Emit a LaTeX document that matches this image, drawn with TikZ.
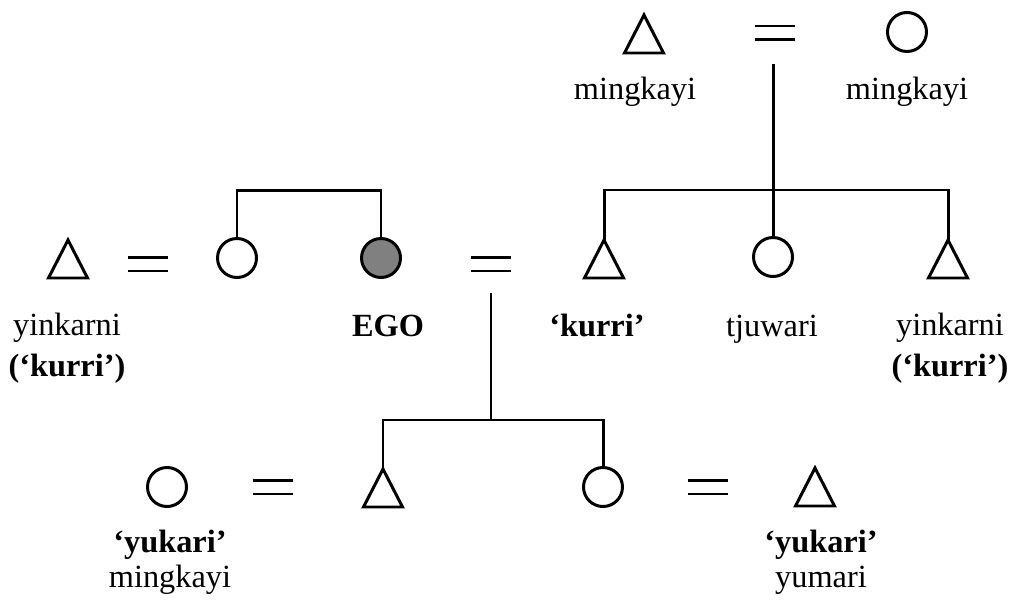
\documentclass[tikz,border=0pt]{standalone}
\usepackage{fontspec}
\setmainfont{Liberation Serif}
\usetikzlibrary{shapes.geometric}

\newcommand\kinfont{\fontsize{18.4}{19.4}\selectfont}

\tikzset{
  male/.style={draw, isosceles triangle, shape border rotate=90,
    isosceles triangle stretches, minimum width=7.8mm, minimum height=7.6mm,
    inner sep=0pt, outer sep=0pt, anchor=apex},
  female/.style={draw, circle, minimum size=7.8mm, inner sep=0pt, outer sep=0pt},
  marriage/.style={minimum width=7.4mm, minimum height=2.2mm, inner sep=0pt,
    append after command={(\tikzlastnode.north west) edge (\tikzlastnode.north east)
      (\tikzlastnode.south west) edge (\tikzlastnode.south east)}},
  term/.style={font=\kinfont, align=center, anchor=base, inner sep=0pt},
}

\begin{document}
\begin{tikzpicture}[x=0.2mm, y=-0.2mm, line width=1.7pt]
\useasboundingbox (0,0) rectangle (1010,610);

% grandparents
\node[male] (gfa) at (644,15) {};
\node[marriage] (mtop) at (775,33) {};
\node[female] (gmo) at (907,32) {};
\node[term] (gfaT) at (635,100) {mingkayi};
\node[term] (gmoT) at (907,100) {mingkayi};

% ego's generation
\node[male] (yinL) at (68,240) {};
\node[marriage] (mleft) at (148,264) {};
\node[female] (sis) at (237,258) {};
\node[female, fill=gray] (ego) at (381,258) {};
\node[marriage] (mego) at (491,264) {};
\node[male] (kurri) at (604,240) {};
\node[female] (tjuwari) at (773,257) {};
\node[male] (yinR) at (948,240) {};

\node[term] (yinLT) at (67,376) {yinkarni\\[1.2mm]\textbf{(‘kurri’)}};
\node[term] (egoT) at (388,336) {\textbf{EGO}};
\node[term] (kurriT) at (597,336) {\textbf{‘kurri’}};
\node[term] (tjuwariT) at (772,336) {tjuwari};
\node[term] (yinRT) at (950,376) {yinkarni\\[1.2mm]\textbf{(‘kurri’)}};

% children
\node[female] (wife) at (167,487) {};
\node[marriage] (mson) at (273,487) {};
\node[male] (son) at (383,469) {};
\node[female] (dau) at (603,487) {};
\node[marriage] (mdau) at (708,487) {};
\node[male] (dauH) at (815,468) {};

\node[term] (wifeT) at (170,587) {\textbf{‘yukari’}\\mingkayi};
\node[term] (dauHT) at (821,587) {\textbf{‘yukari’}\\yumari};

% descent lines
\coordinate (dtop) at (773,190);
\coordinate (dego) at (491,420);
\draw ([yshift=-4.8mm]mtop.south -| dtop) -- (dtop);
\draw (kurri.apex) -- (kurri.apex |- dtop) -- (yinR.apex |- dtop) -- (yinR.apex);
\draw (dtop) -- (tjuwari.north);
\draw (sis.north) -- ++(0,-48) -| (ego.north);
\draw ([yshift=-4.4mm]mego.south) -- (dego);
\draw (son.apex) -- (son.apex |- dego) -- (dau.north |- dego) -- (dau.north);
\end{tikzpicture}
\end{document}
